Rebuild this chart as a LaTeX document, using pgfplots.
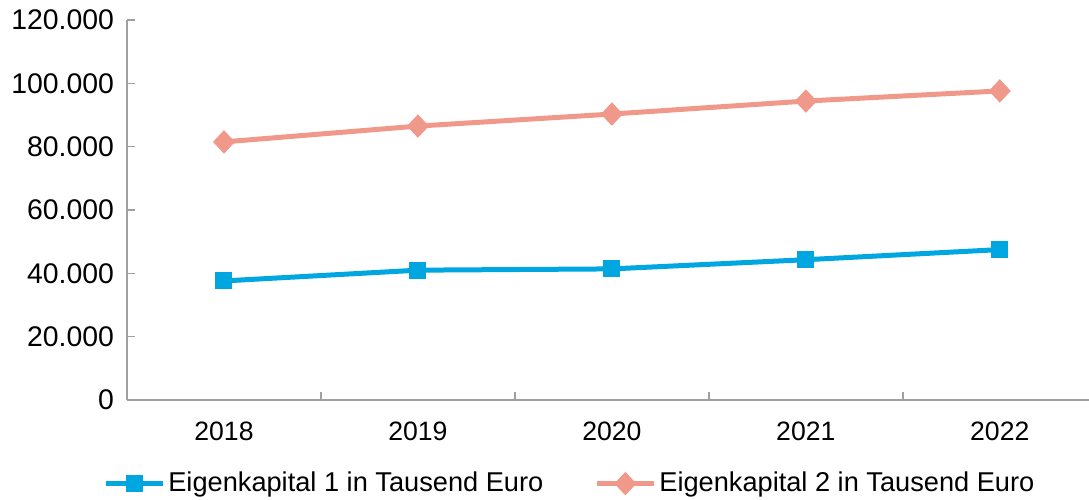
\documentclass[border=0pt]{standalone}
\usepackage{pgfplots}
\pgfplotsset{compat=1.18}
\usepackage{fontspec}
\setmainfont{Liberation Sans}
\definecolor{serA}{HTML}{00A6E0}
\definecolor{serB}{HTML}{F0998A}
\definecolor{axgray}{HTML}{A0A0A0}
\begin{document}
\begin{tikzpicture}
\useasboundingbox (-63.5pt,-49.5pt) rectangle (481pt,200pt);
\begin{axis}[
  scale only axis,
  width=481pt, height=190pt,
  at={(0,0)}, anchor=south west,
  xmin=-0.5, xmax=4.46,
  ymin=0, ymax=120000,
  axis lines=left,
  axis line style={draw=axgray, line width=0.9pt, -},
  xtick={0,1,2,3,4},
  xticklabels={2018,2019,2020,2021,2022},
  minor xtick={0.5,1.5,2.5,3.5},
  major x tick style={draw=none},
  minor x tick style={draw=axgray, line width=0.8pt},
  minor tick length=4pt,
  ytick={0,20000,40000,60000,80000,100000,120000},
  major y tick style={draw=axgray, line width=0.8pt},
  major tick length=4pt,
  tick align=inside,
  scaled y ticks=false,
  /pgf/number format/.cd, fixed, 1000 sep={.}, assume math mode=true,
  /pgfplots/.cd,
  xticklabel style={font=\fontsize{13.3}{15}\selectfont, text=black, yshift=-7.5pt},
  yticklabel style={font=\fontsize{14.2}{16}\selectfont, text=black, xshift=-3pt},
  legend columns=2,
  legend style={
    at={(axis description cs:-0.025,-0.22)}, anchor=west,
    draw=none, fill=none, inner sep=0pt,
    font=\fontsize{13.6}{15}\selectfont,
    nodes={inner xsep=1.5pt},
    /tikz/every even column/.append style={column sep=24pt},
  },
  legend cell align=left,
  legend image code/.code={
    \draw[#1, mark=none] (0pt,0pt) -- (28.5pt,0pt);
    \draw[#1, only marks] plot coordinates {(14.25pt,0pt)};
  },
]
\addplot[color=serA, line width=2.5pt, mark=square*, mark size=4pt,
  mark options={solid, line width=0.5pt, rounded corners=1pt}]
  coordinates {(0,37600) (1,41000) (2,41400) (3,44300) (4,47500)};
\addlegendentry{Eigenkapital 1 in Tausend Euro}
\addplot[color=serB, line width=2.5pt, mark=diamond*, mark size=5.5pt,
  mark options={solid, line width=0.5pt, xscale=1.25}]
  coordinates {(0,81500) (1,86500) (2,90300) (3,94400) (4,97600)};
\addlegendentry{Eigenkapital 2 in Tausend Euro}
\end{axis}
\end{tikzpicture}
\end{document}
